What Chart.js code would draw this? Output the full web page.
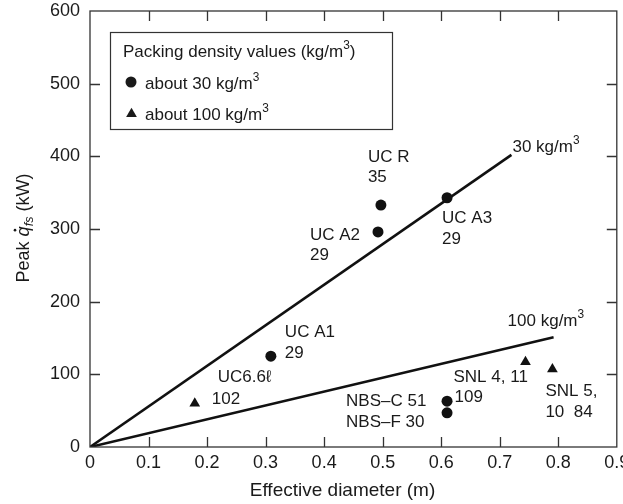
<!DOCTYPE html>
<html><head><meta charset="utf-8">
<script src="https://cdn.jsdelivr.net/npm/chart.js@4.4.1/dist/chart.umd.min.js"></script>
<style>html,body{margin:0;padding:0;background:#fff}#wrap{width:623px;height:504px}</style>
</head><body><div id="wrap"><canvas id="c" width="623" height="504"></canvas></div>
<script>
// ---- data ----
const xTickValues = [0, 0.1, 0.2, 0.3, 0.4, 0.5, 0.6, 0.7, 0.8, 0.9];
const yTickValues = [0, 100, 200, 300, 400, 500, 600];
const circleNames = ['UC R', 'UC A2', 'UC A3', 'UC A1', 'NBS–C', 'NBS–F'];
const circleX = [0.497, 0.492, 0.610, 0.309, 0.610, 0.610];
const circleY = [333, 296, 343, 125, 63, 47];
const triangleNames = ['UC6.6ℓ', 'SNL 4, 11', 'SNL 5, 10'];
const triangleX = [0.179, 0.744, 0.790];
const triangleY = [60, 117, 107];
const line30X = [0, 0.72];
const line30Y = [0, 402];
const line100X = [0, 0.792];
const line100Y = [0, 151];

const FONT = '"Liberation Sans", Arial, Helvetica, sans-serif';
const INK = '#1a1a1a';
const zip = (xs, ys) => xs.map((x, i) => ({x, y: ys[i]}));

// annotation text lines, anchored to a data point (dataset index, point index) with pixel offsets
const notes = [
  {ds: 2, i: 0, lines: [['UC R', -13, -48], ['35', -13, -28]]},
  {ds: 2, i: 1, lines: [['UC A2', -68, 3], ['29', -68, 23]]},
  {ds: 2, i: 2, lines: [['UC A3', -5, 21], ['29', -5, 42]]},
  {ds: 2, i: 3, lines: [['UC A1', 14, -24], ['29', 14, -3]]},
  {ds: 2, i: 4, lines: [['NBS–C 51', -101, 0]]},
  {ds: 2, i: 5, lines: [['NBS–F 30', -101, 9]]},
  {ds: 3, i: 0, lines: [['UC6.6ℓ', 23, -26], ['102', 17, -4]]},
  {ds: 3, i: 1, lines: [['SNL 4, 11', -72, 15], ['109', -71, 35]]},
  {ds: 3, i: 2, lines: [['SNL 5,', -7, 22], ['10  84', -7, 43]]}
];

function richWidth(ctx, parts, size) {
  let w = 0;
  for (const p of parts) {
    const s = p.sup || p.sub ? size * 0.7 : size;
    ctx.font = (p.it ? 'italic ' : '') + s + 'px ' + FONT;
    w += ctx.measureText(p.t).width;
  }
  return w;
}
function drawRich(ctx, parts, x, y, size) {
  ctx.textBaseline = 'middle';
  ctx.textAlign = 'left';
  for (const p of parts) {
    const s = p.sup || p.sub ? size * 0.7 : size;
    ctx.font = (p.it ? 'italic ' : '') + s + 'px ' + FONT;
    const dy = p.sup ? -size * 0.38 : (p.sub ? size * 0.3 : 0);
    ctx.fillText(p.t, x, y + dy);
    const w = ctx.measureText(p.t).width;
    if (p.dot) {
      ctx.beginPath();
      ctx.arc(x + w * 0.62, y - size * 0.5, 1.3, 0, Math.PI * 2);
      ctx.fill();
    }
    x += w;
  }
  return x;
}

const decor = {
  id: 'decor',
  afterDraw(chart) {
    const ctx = chart.ctx;
    const a = chart.chartArea;
    const xs = chart.scales.x, ys = chart.scales.y;
    ctx.save();
    ctx.strokeStyle = '#333';
    ctx.lineWidth = 1.3;
    ctx.strokeRect(a.left, a.top, a.right - a.left, a.bottom - a.top);
    const TL = 10;
    ctx.beginPath();
    xs.ticks.forEach(t => {
      if (t.value <= xs.min || t.value >= xs.max) return;
      const px = Math.round(xs.getPixelForValue(t.value)) + 0.5;
      ctx.moveTo(px, a.bottom); ctx.lineTo(px, a.bottom - TL);
      ctx.moveTo(px, a.top); ctx.lineTo(px, a.top + TL);
    });
    ys.ticks.forEach(t => {
      if (t.value <= ys.min || t.value >= ys.max) return;
      const py = Math.round(ys.getPixelForValue(t.value)) + 0.5;
      ctx.moveTo(a.left, py); ctx.lineTo(a.left + TL, py);
      ctx.moveTo(a.right, py); ctx.lineTo(a.right - TL, py);
    });
    ctx.stroke();

    // legend
    ctx.lineWidth = 1.2;
    ctx.strokeStyle = '#333';
    ctx.strokeRect(110.5, 32.5, 282, 97);
    ctx.fillStyle = INK;
    drawRich(ctx, [{t: 'Packing density values (kg/m'}, {t: '3', sup: true}, {t: ')'}], 123, 52, 17);
    const d2 = chart.data.datasets[2], d3 = chart.data.datasets[3];
    Chart.helpers.drawPoint(ctx, {pointStyle: d2.pointStyle, radius: d2.pointRadius, borderWidth: 0}, 131, 82);
    drawRich(ctx, [{t: d2.label}, {t: '3', sup: true}], 145, 84, 17);
    Chart.helpers.drawPoint(ctx, {pointStyle: d3.pointStyle, radius: d3.pointRadius, borderWidth: 0}, 131.5, 114);
    drawRich(ctx, [{t: d3.label}, {t: '3', sup: true}], 145, 115, 17);

    // annotations
    ctx.fillStyle = INK;
    notes.forEach(n => {
      const el = chart.getDatasetMeta(n.ds).data[n.i];
      n.lines.forEach(([txt, dx, dy]) => {
        drawRich(ctx, [{t: txt}], el.x + dx, el.y + dy, 17);
      });
    });
    // line labels
    const e30 = chart.getDatasetMeta(0).data[1];
    drawRich(ctx, [{t: '30 kg/m'}, {t: '3', sup: true}], e30.x + 1, e30.y - 8, 17);
    const e100 = chart.getDatasetMeta(1).data[1];
    drawRich(ctx, [{t: '100 kg/m'}, {t: '3', sup: true}], e100.x - 46, e100.y - 16, 17);

    // x title
    ctx.font = '19px ' + FONT;
    ctx.textAlign = 'center';
    ctx.textBaseline = 'middle';
    ctx.fillText('Effective diameter (m)', 342.5, 491);

    // y title
    const yParts = [{t: 'Peak '}, {t: 'q', it: true, dot: true}, {t: 'fs', it: true, sub: true}, {t: ' (kW)'}];
    ctx.translate(24, 228);
    ctx.rotate(-Math.PI / 2);
    const w = richWidth(ctx, yParts, 18);
    drawRich(ctx, yParts, -w / 2, 0, 18);
    ctx.restore();
  }
};

new Chart(document.getElementById('c'), {
  type: 'scatter',
  data: {
    datasets: [
      {label: '30 kg/m', data: zip(line30X, line30Y), showLine: true, borderColor: '#111', borderWidth: 2.6, pointRadius: 0, order: 3},
      {label: '100 kg/m', data: zip(line100X, line100Y), showLine: true, borderColor: '#111', borderWidth: 2.6, pointRadius: 0, order: 3},
      {label: 'about 30 kg/m', data: zip(circleX, circleY), pointStyle: 'circle', pointRadius: 5.5, backgroundColor: '#111', borderWidth: 0, order: 1},
      {label: 'about 100 kg/m', data: zip(triangleX, triangleY), pointStyle: 'triangle', pointRadius: 6.2, backgroundColor: '#111', borderWidth: 0, order: 1}
    ]
  },
  options: {
    responsive: false,
    animation: false,
    devicePixelRatio: 1,
    layout: {padding: {top: 11, right: 6, left: 0, bottom: 0}},
    plugins: {legend: {display: false}, tooltip: {enabled: false}},
    scales: {
      x: {
        type: 'linear', min: 0, max: 0.9,
        afterBuildTicks: s => { s.ticks = xTickValues.map(v => ({value: v})); },
        afterFit: s => { s.height = 57; s.paddingLeft = 0; s.paddingRight = 0; },
        grid: {display: false, drawTicks: false},
        border: {display: false},
        ticks: {font: {family: FONT, size: 18}, color: INK, padding: 5, maxRotation: 0, autoSkip: false}
      },
      y: {
        type: 'linear', min: 0, max: 600,
        afterBuildTicks: s => { s.ticks = yTickValues.map(v => ({value: v})); },
        afterFit: s => { s.width = 90; s.paddingTop = 0; s.paddingBottom = 0; },
        grid: {display: false, drawTicks: false},
        border: {display: false},
        ticks: {font: {family: FONT, size: 18}, color: INK, padding: 10, autoSkip: false}
      }
    }
  },
  plugins: [decor]
});
</script>
</body></html>
